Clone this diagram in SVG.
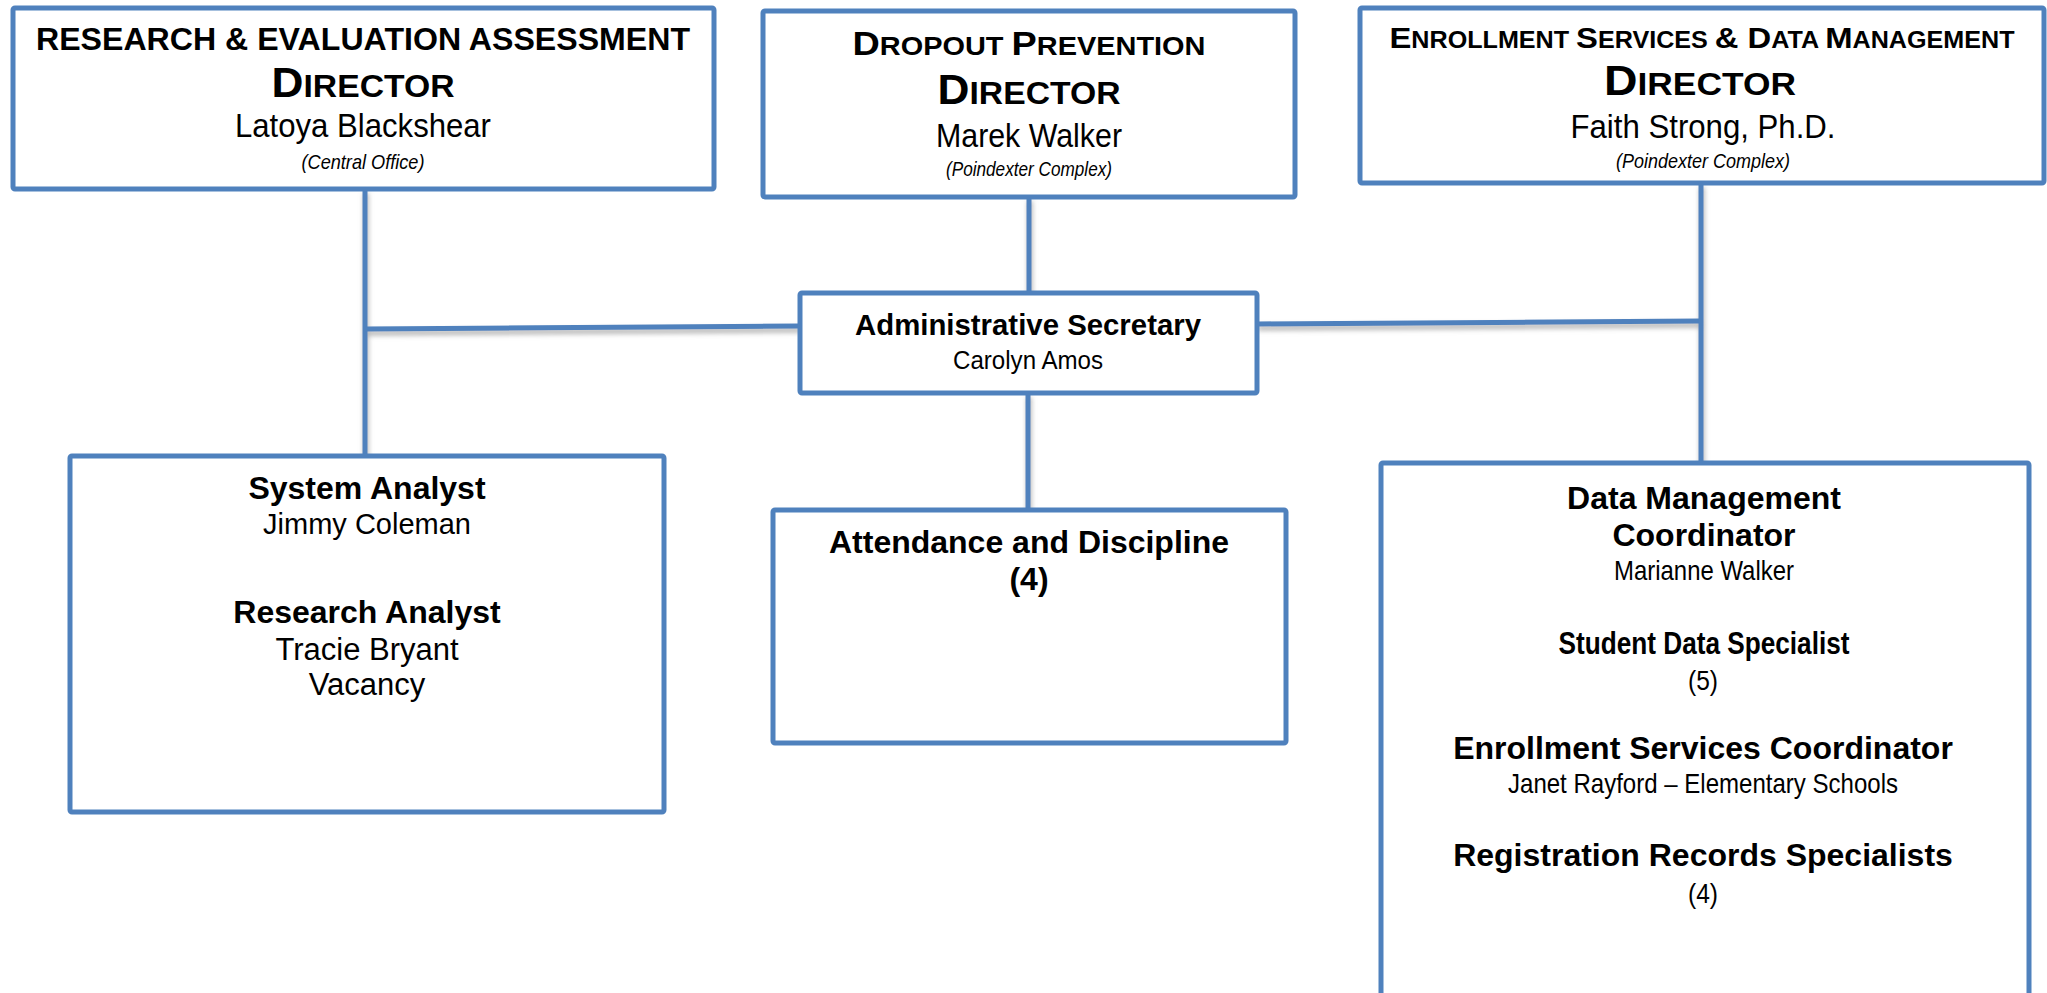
<svg xmlns="http://www.w3.org/2000/svg" width="2047" height="993" viewBox="0 0 2047 993">
<style>
  .box { fill: #FFFFFF; stroke: #4F81BD; stroke-width: 5; }
  .conn { stroke: #4F81BD; stroke-width: 5; fill: none; }
  text { font-family: "Liberation Sans", Arial, sans-serif; fill: #000000; text-anchor: middle; }
  .b { font-weight: bold; }
  .i { font-style: italic; }
</style>
<defs>
  <filter id="shadow" x="-5%" y="-50%" width="110%" height="300%">
    <feGaussianBlur in="SourceAlpha" stdDeviation="2.5" result="blur"/>
    <feOffset dx="1" dy="4" result="off"/>
    <feFlood flood-color="#808080" flood-opacity="0.6"/>
    <feComposite in2="off" operator="in" result="sh"/>
    <feMerge><feMergeNode in="sh"/><feMergeNode in="SourceGraphic"/></feMerge>
  </filter>
</defs>
<rect width="2047" height="993" fill="#FFFFFF"/>

<g id="connectors" filter="url(#shadow)">
  <line class="conn" x1="365" y1="189" x2="365" y2="456"/>
  <line class="conn" x1="365" y1="329" x2="800" y2="326" stroke-width="6"/>
  <line class="conn" x1="1029" y1="197" x2="1029" y2="293"/>
  <line class="conn" x1="1028" y1="393" x2="1028" y2="510"/>
  <line class="conn" x1="1257" y1="324" x2="1701" y2="321" stroke-width="6"/>
  <line class="conn" x1="1701" y1="183" x2="1701" y2="463"/>
</g>

<g id="research-director">
  <rect class="box" x="13" y="8" width="701" height="181" rx="2"/>
  <text class="b" x="363" y="50" font-size="32" textLength="654" lengthAdjust="spacingAndGlyphs">RESEARCH &amp; EVALUATION ASSESSMENT</text>
  <text class="b" x="363" y="97" textLength="183" lengthAdjust="spacingAndGlyphs"><tspan font-size="42">D</tspan><tspan font-size="32">IRECTOR</tspan></text>
  <text x="363" y="137" font-size="34" textLength="256" lengthAdjust="spacingAndGlyphs">Latoya Blackshear</text>
  <text class="i" x="363" y="169" font-size="21" textLength="123" lengthAdjust="spacingAndGlyphs">(Central Office)</text>
</g>

<g id="dropout-director">
  <rect class="box" x="763" y="11" width="532" height="186" rx="2"/>
  <text class="b" x="1029" y="55" textLength="353" lengthAdjust="spacingAndGlyphs"><tspan font-size="34">D</tspan><tspan font-size="26">ROPOUT </tspan><tspan font-size="34">P</tspan><tspan font-size="26">REVENTION</tspan></text>
  <text class="b" x="1029" y="104" textLength="183" lengthAdjust="spacingAndGlyphs"><tspan font-size="42">D</tspan><tspan font-size="32">IRECTOR</tspan></text>
  <text x="1029" y="147" font-size="34" textLength="186" lengthAdjust="spacingAndGlyphs">Marek Walker</text>
  <text class="i" x="1029" y="176" font-size="21" textLength="166" lengthAdjust="spacingAndGlyphs">(Poindexter Complex)</text>
</g>

<g id="enrollment-director">
  <rect class="box" x="1360" y="8" width="684" height="175" rx="2"/>
  <text class="b" x="1702" y="48" textLength="625" lengthAdjust="spacingAndGlyphs"><tspan font-size="30">E</tspan><tspan font-size="23">NROLLMENT </tspan><tspan font-size="30">S</tspan><tspan font-size="23">ERVICES </tspan><tspan font-size="30">&amp; D</tspan><tspan font-size="23">ATA </tspan><tspan font-size="30">M</tspan><tspan font-size="23">ANAGEMENT</tspan></text>
  <text class="b" x="1700" y="95" textLength="192" lengthAdjust="spacingAndGlyphs"><tspan font-size="42">D</tspan><tspan font-size="32">IRECTOR</tspan></text>
  <text x="1703" y="138" font-size="34" textLength="265" lengthAdjust="spacingAndGlyphs">Faith Strong, Ph.D.</text>
  <text class="i" x="1703" y="168" font-size="21" textLength="174" lengthAdjust="spacingAndGlyphs">(Poindexter Complex)</text>
</g>

<g id="admin-secretary">
  <rect class="box" x="800" y="293" width="457" height="100" rx="2"/>
  <text class="b" x="1028" y="335" font-size="30" textLength="346" lengthAdjust="spacingAndGlyphs">Administrative Secretary</text>
  <text x="1028" y="369" font-size="26" textLength="150" lengthAdjust="spacingAndGlyphs">Carolyn Amos</text>
</g>

<g id="research-staff">
  <rect class="box" x="70" y="456" width="594" height="356" rx="2"/>
  <text class="b" x="367" y="499" font-size="32">System Analyst</text>
  <text x="367" y="534" font-size="29">Jimmy Coleman</text>
  <text class="b" x="367" y="623" font-size="32">Research Analyst</text>
  <text x="367" y="660" font-size="31">Tracie Bryant</text>
  <text x="367" y="695" font-size="31">Vacancy</text>
</g>

<g id="attendance">
  <rect class="box" x="773" y="510" width="513" height="233" rx="2"/>
  <text class="b" x="1029" y="553" font-size="32">Attendance and Discipline</text>
  <text class="b" x="1029" y="590" font-size="32">(4)</text>
</g>

<g id="data-management">
  <rect class="box" x="1381" y="463" width="648" height="580" rx="2"/>
  <text class="b" x="1704" y="509" font-size="32">Data Management</text>
  <text class="b" x="1704" y="546" font-size="32">Coordinator</text>
  <text x="1704" y="580" font-size="28" textLength="180" lengthAdjust="spacingAndGlyphs">Marianne Walker</text>
  <text class="b" x="1704" y="654" font-size="31" textLength="291" lengthAdjust="spacingAndGlyphs">Student Data Specialist</text>
  <text x="1703" y="690" font-size="28" textLength="30" lengthAdjust="spacingAndGlyphs">(5)</text>
  <text class="b" x="1703" y="759" font-size="32">Enrollment Services Coordinator</text>
  <text x="1703" y="793" font-size="28" textLength="390" lengthAdjust="spacingAndGlyphs">Janet Rayford – Elementary Schools</text>
  <text class="b" x="1703" y="866" font-size="32">Registration Records Specialists</text>
  <text x="1703" y="903" font-size="28" textLength="30" lengthAdjust="spacingAndGlyphs">(4)</text>
</g>
</svg>
